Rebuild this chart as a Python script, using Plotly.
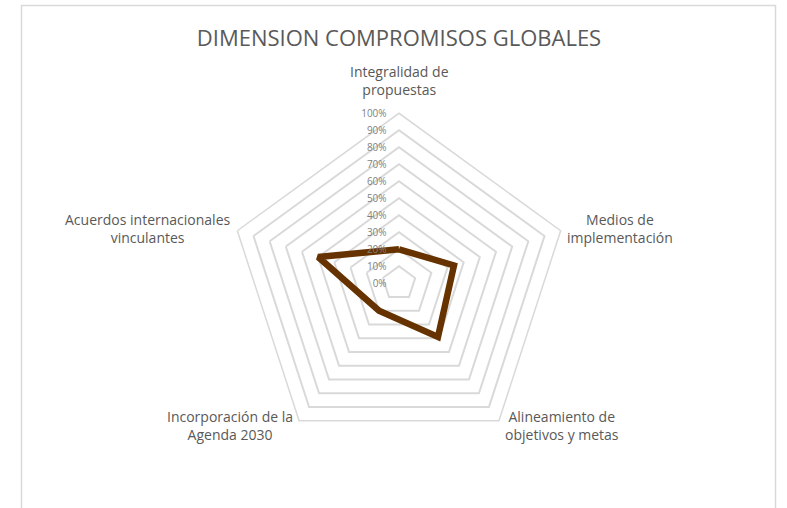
import math
import plotly.graph_objects as go

categories = [
    "Integralidad de propuestas",
    "Medios de implementación",
    "Alineamiento de objetivos y metas",
    "Incorporación de la Agenda 2030",
    "Acuerdos internacionales vinculantes",
]
label_text = [
    "Integralidad de<br>propuestas",
    "Medios de<br>implementación",
    "Alineamiento de<br>objetivos y metas",
    "Incorporación de la<br>Agenda 2030",
    "Acuerdos internacionales<br>vinculantes",
]
values = [0.20, 0.34, 0.39, 0.20, 0.50]
radial_ticks = [i / 10 for i in range(11)]
radial_labels = [f"{round(v * 100)}%" for v in radial_ticks]
title_text = "DIMENSION COMPROMISOS GLOBALES"

W, H = 787, 508
cx, cy, R = 399, 283.3, 170

fig = go.Figure()
fig.add_trace(go.Scatterpolar(
    r=values + values[:1],
    theta=categories + categories[:1],
    mode="lines",
    line=dict(color="#663300", width=6.5),
    hoverinfo="skip",
    showlegend=False,
))

# category labels placed just outside each vertex of the outer ring
annotations = []
n = len(categories)
for i, txt in enumerate(label_text):
    ang = math.radians(90 - 360 * i / n)
    vx = cx + R * math.cos(ang)
    vy = cy - R * math.sin(ang)
    if i == 0:
        xa, ya, dx, dy = "center", "bottom", 0, -12
    elif vx > cx:
        xa, ya, dx, dy = "left", "middle", 4, 5 if vy > cy else -2
    else:
        xa, ya, dx, dy = "right", "middle", -4, 5 if vy > cy else -2
    annotations.append(dict(
        text=txt, x=(vx + dx) / W, y=1 - (vy + dy) / H, xref="paper", yref="paper",
        xanchor=xa, yanchor=ya, align="center", showarrow=False,
        font=dict(size=14, color="#595959", family="Open Sans"),
    ))

pad = "\u00a0" * 4
fig.update_layout(
    width=W, height=H,
    margin=dict(l=0, r=0, t=0, b=0),
    paper_bgcolor="white",
    font=dict(family="Open Sans", color="#595959"),
    title=dict(text=title_text, x=cx / W, xanchor="center", y=1 - 38 / H, yanchor="middle",
               font=dict(size=22, color="#595959", family="Open Sans")),
    polar=dict(
        domain=dict(x=[(cx - R) / W, (cx + R) / W], y=[(H - cy - R) / H, (H - cy + R) / H]),
        bgcolor="white",
        gridshape="linear",
        angularaxis=dict(
            direction="clockwise", rotation=90,
            showgrid=False, showline=True, linecolor="#d9d9d9", linewidth=1.5,
            ticks="", showticklabels=False,
        ),
        radialaxis=dict(
            range=[0, 1], tickvals=radial_ticks, ticktext=[t + pad for t in radial_labels],
            angle=90, tickangle=90, side="counterclockwise",
            showline=False, ticks="", showgrid=True, gridcolor="#d9d9d9", gridwidth=1.5,
            tickfont=dict(size=10, color="#7f7f7f"),
        ),
    ),
    annotations=annotations,
    shapes=[dict(type="rect", xref="paper", yref="paper",
                 x0=21.5 / W, x1=775.5 / W, y0=-0.05, y1=1 - 5.5 / H,
                 line=dict(color="#d9d9d9", width=1.5), fillcolor="rgba(0,0,0,0)", layer="below")],
)

fig.write_html("out.html", config={"displayModeBar": False},
               post_script="document.body.style.margin='0';document.body.style.overflow='hidden';")
